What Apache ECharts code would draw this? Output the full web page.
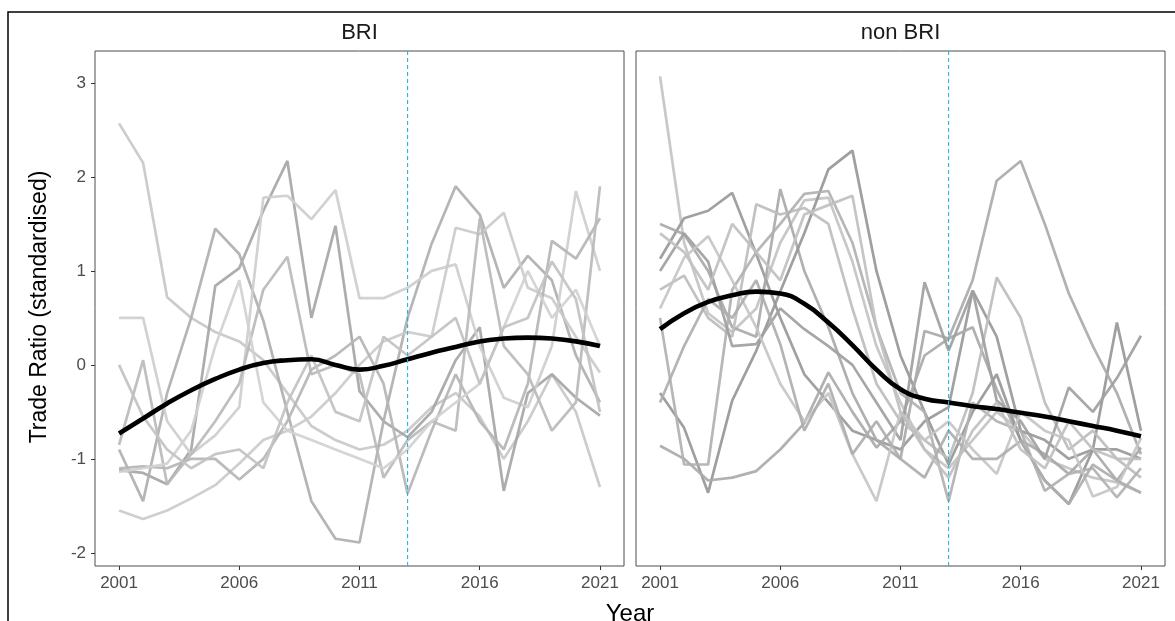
<!DOCTYPE html>
<html>
<head>
<meta charset="utf-8">
<title>Trade Ratio – BRI vs non BRI</title>
<script src="https://cdn.jsdelivr.net/npm/echarts@6/dist/echarts.min.js"></script>
<style>
  html, body { margin: 0; padding: 0; background: #fff; }
  #chart { width: 1175px; height: 621px; }
</style>
</head>
<body>
<div id="chart"></div>
<script>
// Years on the horizontal axis
const years = [2001, 2002, 2003, 2004, 2005, 2006, 2007, 2008, 2009, 2010, 2011,
               2012, 2013, 2014, 2015, 2016, 2017, 2018, 2019, 2020, 2021];
const xTicks = [2001, 2006, 2011, 2016, 2021];
const yTicks = [-2, -1, 0, 1, 2, 3];
const yRange = [-2.14, 3.34];
const policyYear = 2013;
const panelNames = ['BRI', 'non BRI'];

// Standardised trade ratio per country — BRI members
const bri1 = [2.57, 2.15, 0.72, 0.50, 0.35, 0.25, 0.05, -0.30, -0.65, -0.80, -0.90, -0.85, -0.70, -0.45, -0.30, -0.55, -1.00, -0.60, -0.10, -0.50, -1.30];
const bri2 = [-1.12, -1.15, -1.27, -0.90, 0.84, 1.03, 1.64, 2.17, 0.50, 1.48, -0.28, -0.60, -0.77, -0.50, 0.05, 0.40, -1.34, -0.30, -0.10, -0.35, -0.54];
const bri3 = [-0.90, -1.45, -0.30, 0.50, 1.45, 1.18, 0.47, -0.50, -1.45, -1.85, -1.89, -0.60, 0.50, 1.29, 1.90, 1.60, 0.82, 1.16, 0.90, 0.10, -0.40];
const bri4 = [0.50, 0.50, -0.60, -0.95, -0.75, -0.45, 1.78, 1.80, 1.55, 1.86, 0.71, 0.71, 0.82, 1.00, 1.07, 0.20, -0.35, -0.45, 0.20, 1.85, 1.00];
const bri5 = [-1.55, -1.64, -1.55, -1.42, -1.28, -1.05, -0.80, -0.70, -0.55, -0.30, 0.00, 0.25, 0.35, 0.30, 1.46, 1.39, 1.62, 0.82, 0.71, 0.30, -0.08];
const bri6 = [-1.10, -1.08, -1.10, -1.00, -1.00, -1.22, -1.00, -0.60, -0.05, 0.10, 0.30, -0.20, -1.37, -0.70, -0.10, -0.60, -0.90, -0.20, 1.32, 1.13, 1.56];
const bri7 = [-0.85, 0.05, -1.27, -0.95, -0.60, -0.20, 0.80, 1.15, -0.10, 0.00, -0.10, -1.20, -0.80, -0.60, -0.70, 1.56, 0.20, -0.10, -0.70, -0.40, 1.90];
const bri8 = [-1.14, -1.10, -1.05, -0.70, 0.20, 0.90, -0.40, -0.70, -0.80, -0.90, -1.00, -1.10, -0.90, -0.60, -0.40, -0.20, 0.40, 1.00, 0.50, 0.80, 0.20];
const bri9 = [0.00, -0.55, -0.90, -1.10, -0.95, -0.90, -1.10, -0.40, 0.10, -0.50, -0.60, 0.30, 0.10, 0.30, 0.50, -0.20, 0.40, 0.50, 1.10, 0.70, -0.50];

// Standardised trade ratio per country — non BRI
const nonBri1 = [3.07, 1.30, 0.55, 0.35, 0.60, 1.30, 1.75, 1.78, 1.10, 0.20, -0.40, -0.90, -1.10, -0.80, -0.50, -0.70, -1.00, -1.10, -1.20, -1.25, -1.36];
const nonBri2 = [1.13, 1.56, 1.64, 1.83, 1.18, 0.50, -0.10, -0.40, -0.70, -0.80, -0.90, -0.60, -0.45, 0.79, 0.30, -0.70, -0.80, -1.00, -0.90, -0.90, -1.00];
const nonBri3 = [1.50, 1.39, 1.00, 0.40, 0.30, 1.87, 1.00, 0.40, -0.30, -0.80, -1.00, 0.36, 0.28, 0.40, -0.26, -0.80, -0.95, -1.16, -0.90, -1.23, -0.88];
const nonBri4 = [-0.30, -0.67, -1.36, -0.38, 0.15, 0.78, 1.40, 2.08, 2.28, 1.00, 0.10, -0.50, -1.06, -0.50, -0.10, -0.81, -1.23, -1.48, -0.90, 0.45, -0.70];
const nonBri5 = [0.80, 0.95, 0.50, 0.30, 1.71, 1.60, 1.67, 1.50, 0.60, -0.20, -0.60, -0.80, -1.00, -0.30, 0.93, 0.50, -0.40, -0.90, -0.70, -1.00, -1.20];
const nonBri6 = [-0.86, -1.00, -1.23, -1.20, -1.13, -0.90, -0.62, -0.08, -0.50, -0.88, -0.60, 0.10, 0.28, 0.90, 1.96, 2.17, 1.50, 0.76, 0.20, -0.30, -0.95];
const nonBri7 = [0.50, -1.06, -1.06, 0.80, 1.20, 1.50, 1.82, 1.85, 1.30, 0.40, -0.30, -0.50, -1.45, -0.40, -0.60, -0.70, -1.34, -1.16, -1.10, -1.41, -1.10];
const nonBri8 = [1.00, 1.40, 1.10, 0.20, 0.22, 0.60, 0.38, 0.20, 0.00, -0.40, -0.80, 0.88, 0.15, 0.79, -0.38, -0.60, -1.00, -0.24, -0.50, -0.14, 0.31];
const nonBri9 = [0.60, 1.14, 1.37, 0.90, 0.40, -0.20, -0.60, -0.30, -0.95, -1.45, -0.50, -0.80, -0.60, -0.90, -1.16, -0.50, -0.70, -0.80, -1.40, -1.30, -0.78];
const nonBri10 = [-0.40, 0.20, 0.70, 0.50, 0.90, 0.22, -0.70, -0.20, -0.95, -0.60, -1.00, -1.20, -0.70, -1.00, -1.00, -0.81, -1.23, -1.48, -1.06, -1.23, -1.36];
const nonBri11 = [1.40, 1.20, 0.80, 1.50, 1.20, 0.90, 1.60, 1.70, 1.80, 0.40, -0.50, -0.90, -1.20, -0.70, -0.40, -0.90, -1.10, -0.60, -0.90, -1.00, -1.00];

// Smoothed group trend with its confidence band
const briFit = [-0.73, -0.57, -0.41, -0.27, -0.15, -0.05, 0.02, 0.05, 0.06, 0.00, -0.05, -0.01, 0.06, 0.13, 0.19, 0.25, 0.28, 0.29, 0.28, 0.25, 0.20];
const briLo  = [-1.11, -0.91, -0.71, -0.54, -0.40, -0.29, -0.22, -0.19, -0.18, -0.23, -0.27, -0.22, -0.14, -0.07, -0.02, 0.03, 0.04, 0.02, -0.03, -0.11, -0.22];
const briHi  = [-0.35, -0.23, -0.11, 0.00, 0.10, 0.19, 0.26, 0.29, 0.30, 0.23, 0.17, 0.20, 0.26, 0.33, 0.40, 0.47, 0.52, 0.56, 0.59, 0.61, 0.62];
const nonBriFit = [0.38, 0.55, 0.67, 0.74, 0.78, 0.76, 0.65, 0.45, 0.21, -0.05, -0.26, -0.36, -0.40, -0.44, -0.47, -0.51, -0.55, -0.60, -0.65, -0.70, -0.76];
const nonBriLo  = [0.03, 0.28, 0.46, 0.56, 0.61, 0.59, 0.48, 0.28, 0.05, -0.21, -0.41, -0.50, -0.53, -0.57, -0.59, -0.63, -0.67, -0.73, -0.80, -0.88, -0.98];
const nonBriHi  = [0.73, 0.82, 0.88, 0.92, 0.95, 0.93, 0.82, 0.62, 0.37, 0.11, -0.11, -0.22, -0.27, -0.31, -0.35, -0.39, -0.43, -0.47, -0.50, -0.52, -0.54];

const briCountries = [bri1, bri2, bri3, bri4, bri5, bri6, bri7, bri8, bri9];
const nonBriCountries = [nonBri1, nonBri2, nonBri3, nonBri4, nonBri5, nonBri6, nonBri7, nonBri8, nonBri9, nonBri10, nonBri11];

// Grey shades for the country lines
const briGreys = ['#c8c8c8', '#a6a6a6', '#afafaf', '#cecece', '#cbcbcb', '#b5b5b5', '#bababa', '#d1d1d1', '#c2c2c2'];
const nonBriGreys = ['#c3c3c3', '#999999', '#a9a9a9', '#979797', '#bdbdbd', '#aaaaaa', '#b1b1b1', '#9f9f9f', '#c6c6c6', '#aeaeae', '#c0c0c0'];

const FONT = '"Liberation Sans", Arial, Helvetica, sans-serif';
const pairs = vals => years.map((y, i) => [y, vals[i]]);

const grids = [
  { left: 95, top: 51, width: 529, height: 515 },
  { left: 636, top: 51, width: 529, height: 515 }
];

function xAxisFor(idx) {
  return {
    type: 'value', gridIndex: idx, min: 2000, max: 2022,
    splitLine: { show: false },
    axisLine: { show: false, onZero: false },
    axisTick: { show: true, length: 4, customValues: xTicks, lineStyle: { color: '#333', width: 1 } },
    axisLabel: { customValues: xTicks, formatter: v => String(v), color: '#4d4d4d', fontSize: 17, fontFamily: FONT, margin: 9 }
  };
}
function yAxisFor(idx) {
  const first = idx === 0;
  return {
    type: 'value', gridIndex: idx, min: yRange[0], max: yRange[1],
    splitLine: { show: false },
    axisLine: { show: false, onZero: false },
    axisTick: { show: first, length: 4, customValues: yTicks, lineStyle: { color: '#333', width: 1 } },
    axisLabel: { show: first, customValues: yTicks, formatter: v => String(v), color: '#4d4d4d', fontSize: 17, fontFamily: FONT, margin: 9 }
  };
}

function panelSeries(idx, countries, greys, fit, lo, hi) {
  const out = [];
  countries.forEach((vals, k) => {
    out.push({
      type: 'line', xAxisIndex: idx, yAxisIndex: idx, data: pairs(vals),
      showSymbol: false, silent: true,
      lineStyle: { color: greys[k], width: 2.7, opacity: 0.92 }, z: 2
    });
  });
  const stackId = 'band' + idx;
  out.push({
    type: 'line', xAxisIndex: idx, yAxisIndex: idx, data: pairs(lo), stack: stackId,
    showSymbol: false, silent: true, smooth: true, lineStyle: { opacity: 0 }, z: 3
  });
  out.push({
    type: 'line', xAxisIndex: idx, yAxisIndex: idx,
    data: years.map((y, i) => [y, +(hi[i] - lo[i]).toFixed(3)]), stack: stackId,
    showSymbol: false, silent: true, smooth: true, lineStyle: { opacity: 0 },
    areaStyle: { color: 'rgba(150,150,150,0.32)' }, z: 3
  });
  out.push({
    type: 'line', xAxisIndex: idx, yAxisIndex: idx, data: pairs(fit),
    showSymbol: false, silent: true, smooth: true,
    lineStyle: { color: '#000', width: 4.6 }, z: 4
  });
  // Dashed vertical marker at the policy year, spanning the panel
  out.push({
    type: 'line', xAxisIndex: idx, yAxisIndex: idx,
    data: [[policyYear, yRange[0]], [policyYear, yRange[1]]],
    showSymbol: false, silent: true, z: 5,
    lineStyle: { color: '#2ab4d6', type: [4, 3], width: 1.1, opacity: 1 }
  });
  return out;
}

const chart = echarts.init(document.getElementById('chart'), null, { renderer: 'canvas' });
chart.setOption({
  animation: false,
  backgroundColor: '#fff',
  grid: grids.map(g => Object.assign({ show: true, borderColor: '#4d4d4d', borderWidth: 1, backgroundColor: '#fff' }, g)),
  xAxis: [xAxisFor(0), xAxisFor(1)],
  yAxis: [yAxisFor(0), yAxisFor(1)],
  series: [
    ...panelSeries(0, briCountries, briGreys, briFit, briLo, briHi),
    ...panelSeries(1, nonBriCountries, nonBriGreys, nonBriFit, nonBriLo, nonBriHi)
  ],
  graphic: [
    { type: 'rect', shape: { x: 8, y: 12, width: 1200, height: 700 }, style: { fill: null, stroke: '#000', lineWidth: 1.5 }, silent: true },
    { type: 'text', x: grids[0].left + grids[0].width / 2, y: 33,
      style: { text: panelNames[0], fontSize: 22, fontFamily: FONT, fill: '#1a1a1a', textAlign: 'center', textVerticalAlign: 'middle' } },
    { type: 'text', x: grids[1].left + grids[1].width / 2, y: 33,
      style: { text: panelNames[1], fontSize: 22, fontFamily: FONT, fill: '#1a1a1a', textAlign: 'center', textVerticalAlign: 'middle' } },
    { type: 'text', x: 40, y: 307, rotation: Math.PI / 2,
      style: { text: 'Trade Ratio (standardised)', fontSize: 23, fontFamily: FONT, fill: '#000', textAlign: 'center', textVerticalAlign: 'middle' } },
    { type: 'text', x: 630, y: 614,
      style: { text: 'Year', fontSize: 24, fontFamily: FONT, fill: '#000', textAlign: 'center', textVerticalAlign: 'middle' } }
  ]
});
</script>
</body>
</html>
